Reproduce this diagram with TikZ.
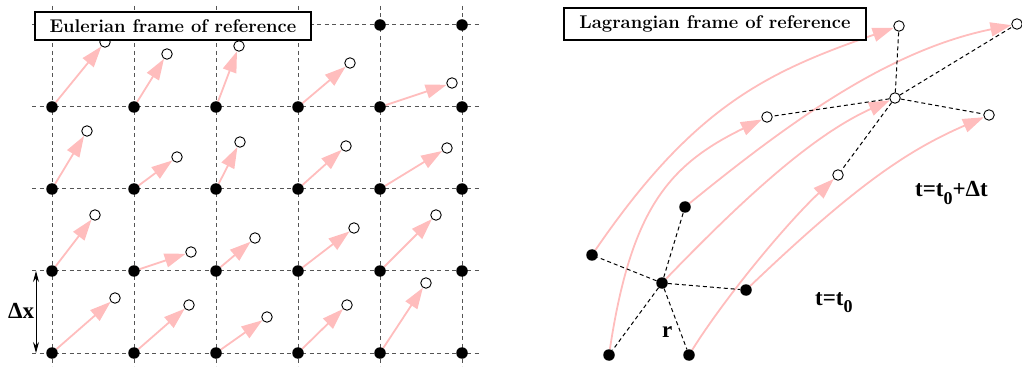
\documentclass[tikz,border=0pt]{standalone}
\usepackage{fontspec}
\newfontfamily\tfont{Liberation Serif}
\usetikzlibrary{arrows.meta,backgrounds}
\definecolor{pinkarrow}{RGB}{255,189,189}
\definecolor{gridgray}{RGB}{85,85,85}
\begin{document}
\begin{tikzpicture}[x=1pt,y=-1pt,
  dot/.style={circle,fill=black,inner sep=0pt,minimum size=11.5pt},
  odot/.style={circle,draw=black,fill=white,line width=0.9pt,inner sep=0pt,minimum size=10.5pt},
  flow/.style={draw=pinkarrow,line width=1.8pt,-{Triangle[length=21pt,width=14pt]}},
  gridline/.style={draw=gridgray,line width=1pt,dash pattern=on 4pt off 3.5pt},
  link/.style={draw=black,line width=1pt,dash pattern=on 4pt off 3pt},
  titlebox/.style={draw=black,fill=white,line width=1.2pt,inner sep=0pt,font=\fontsize{18.4}{22}\selectfont\bfseries},
  lab/.style={font={\tfont\bfseries\fontsize{23}{25}\selectfont},inner sep=0pt}
]
\useasboundingbox (0,0) rectangle (1022,371);

% ---------- Eulerian panel ----------
\foreach \r in {25,107,189,271,353}
  \draw[gridline] (32,\r) -- (480,\r);
\foreach \c in {52,134,216,298,380,462}
  \draw[gridline] (\c,6) -- (\c,366);

\foreach \c [count=\i] in {52,134,216,298,380,462}
  \foreach \r [count=\j] in {25,107,189,271,353}
    \node[dot] (e-\i-\j) at (\c,\r) {};

\foreach \i/\j/\x/\y in {
  1/2/105/42, 2/2/167/54, 3/2/239/46, 4/2/350/63, 5/2/452/83,
  1/3/87/131, 2/3/177/157, 3/3/240/142, 4/3/346/146, 5/3/447/148,
  1/4/95/215, 2/4/191/252, 3/4/255/238, 4/4/354/228, 5/4/436/215,
  1/5/115/298, 2/5/189/305, 3/5/267/317, 4/5/347/305, 5/5/426/283}
{
  \node[odot] (v-\i-\j) at (\x,\y) {};
  \begin{pgfonlayer}{background}
    \draw[flow] (e-\i-\j) -- (v-\i-\j);
  \end{pgfonlayer}
}

\node[titlebox,minimum width=276pt,minimum height=28pt] (eul) at (173,26) {Eulerian frame of reference};

\coordinate (dxt) at (36,271);
\coordinate (dxb) at (36,353);
\draw[line width=1pt,{Stealth[length=11pt,width=6pt]}-{Stealth[length=11pt,width=6pt]}] (dxt) -- (dxb);
\node[lab,anchor=base west] (dxl) at (8,318) {Δx};

% ---------- Lagrangian panel ----------
\node[dot] (A) at (592,255) {};
\node[dot] (B) at (685,207) {};
\node[dot] (C) at (662,283) {};
\node[dot] (D) at (746,290) {};
\node[dot] (E) at (609,355) {};
\node[dot] (F) at (689,355) {};

\node[odot] (pa) at (899,26) {};
\node[odot] (pb) at (1017,24) {};
\node[odot] (pc) at (895,98) {};
\node[odot] (pd) at (767,117) {};
\node[odot] (pe) at (989,115) {};
\node[odot] (pf) at (838,175) {};

\begin{pgfonlayer}{background}
  \draw[flow] (A) .. controls (694,106) and (767,72) .. (pa);
  \draw[flow] (B) .. controls (793,119) and (890,50) .. (pb);
  \draw[flow] (C) .. controls (745,197) and (813,135) .. (pc);
  \draw[flow] (D) .. controls (854,187) and (906,151) .. (pe);
  \draw[flow] (E) .. controls (631,210) and (668,165) .. (pd);
  \draw[flow] (F) .. controls (726,296) and (787,223) .. (pf);
  \foreach \n in {A,B,D,E,F} \draw[link] (C) -- (\n);
  \foreach \n in {pa,pb,pd,pe,pf} \draw[link] (pc) -- (\n);
\end{pgfonlayer}

\node[titlebox,minimum width=302pt,minimum height=32pt] (lag) at (715,24) {Lagrangian frame of reference};

\node[lab,anchor=base west] (tl1) at (915,197) {t=t\raisebox{-8pt}{\fontsize{18}{18}\selectfont 0}+Δt};
\node[lab,anchor=base west] (tl0) at (815,305) {t=t\raisebox{-8pt}{\fontsize{18}{18}\selectfont 0}};
\node[lab,anchor=base west] (rl) at (662,337) {r};
\end{tikzpicture}
\end{document}
